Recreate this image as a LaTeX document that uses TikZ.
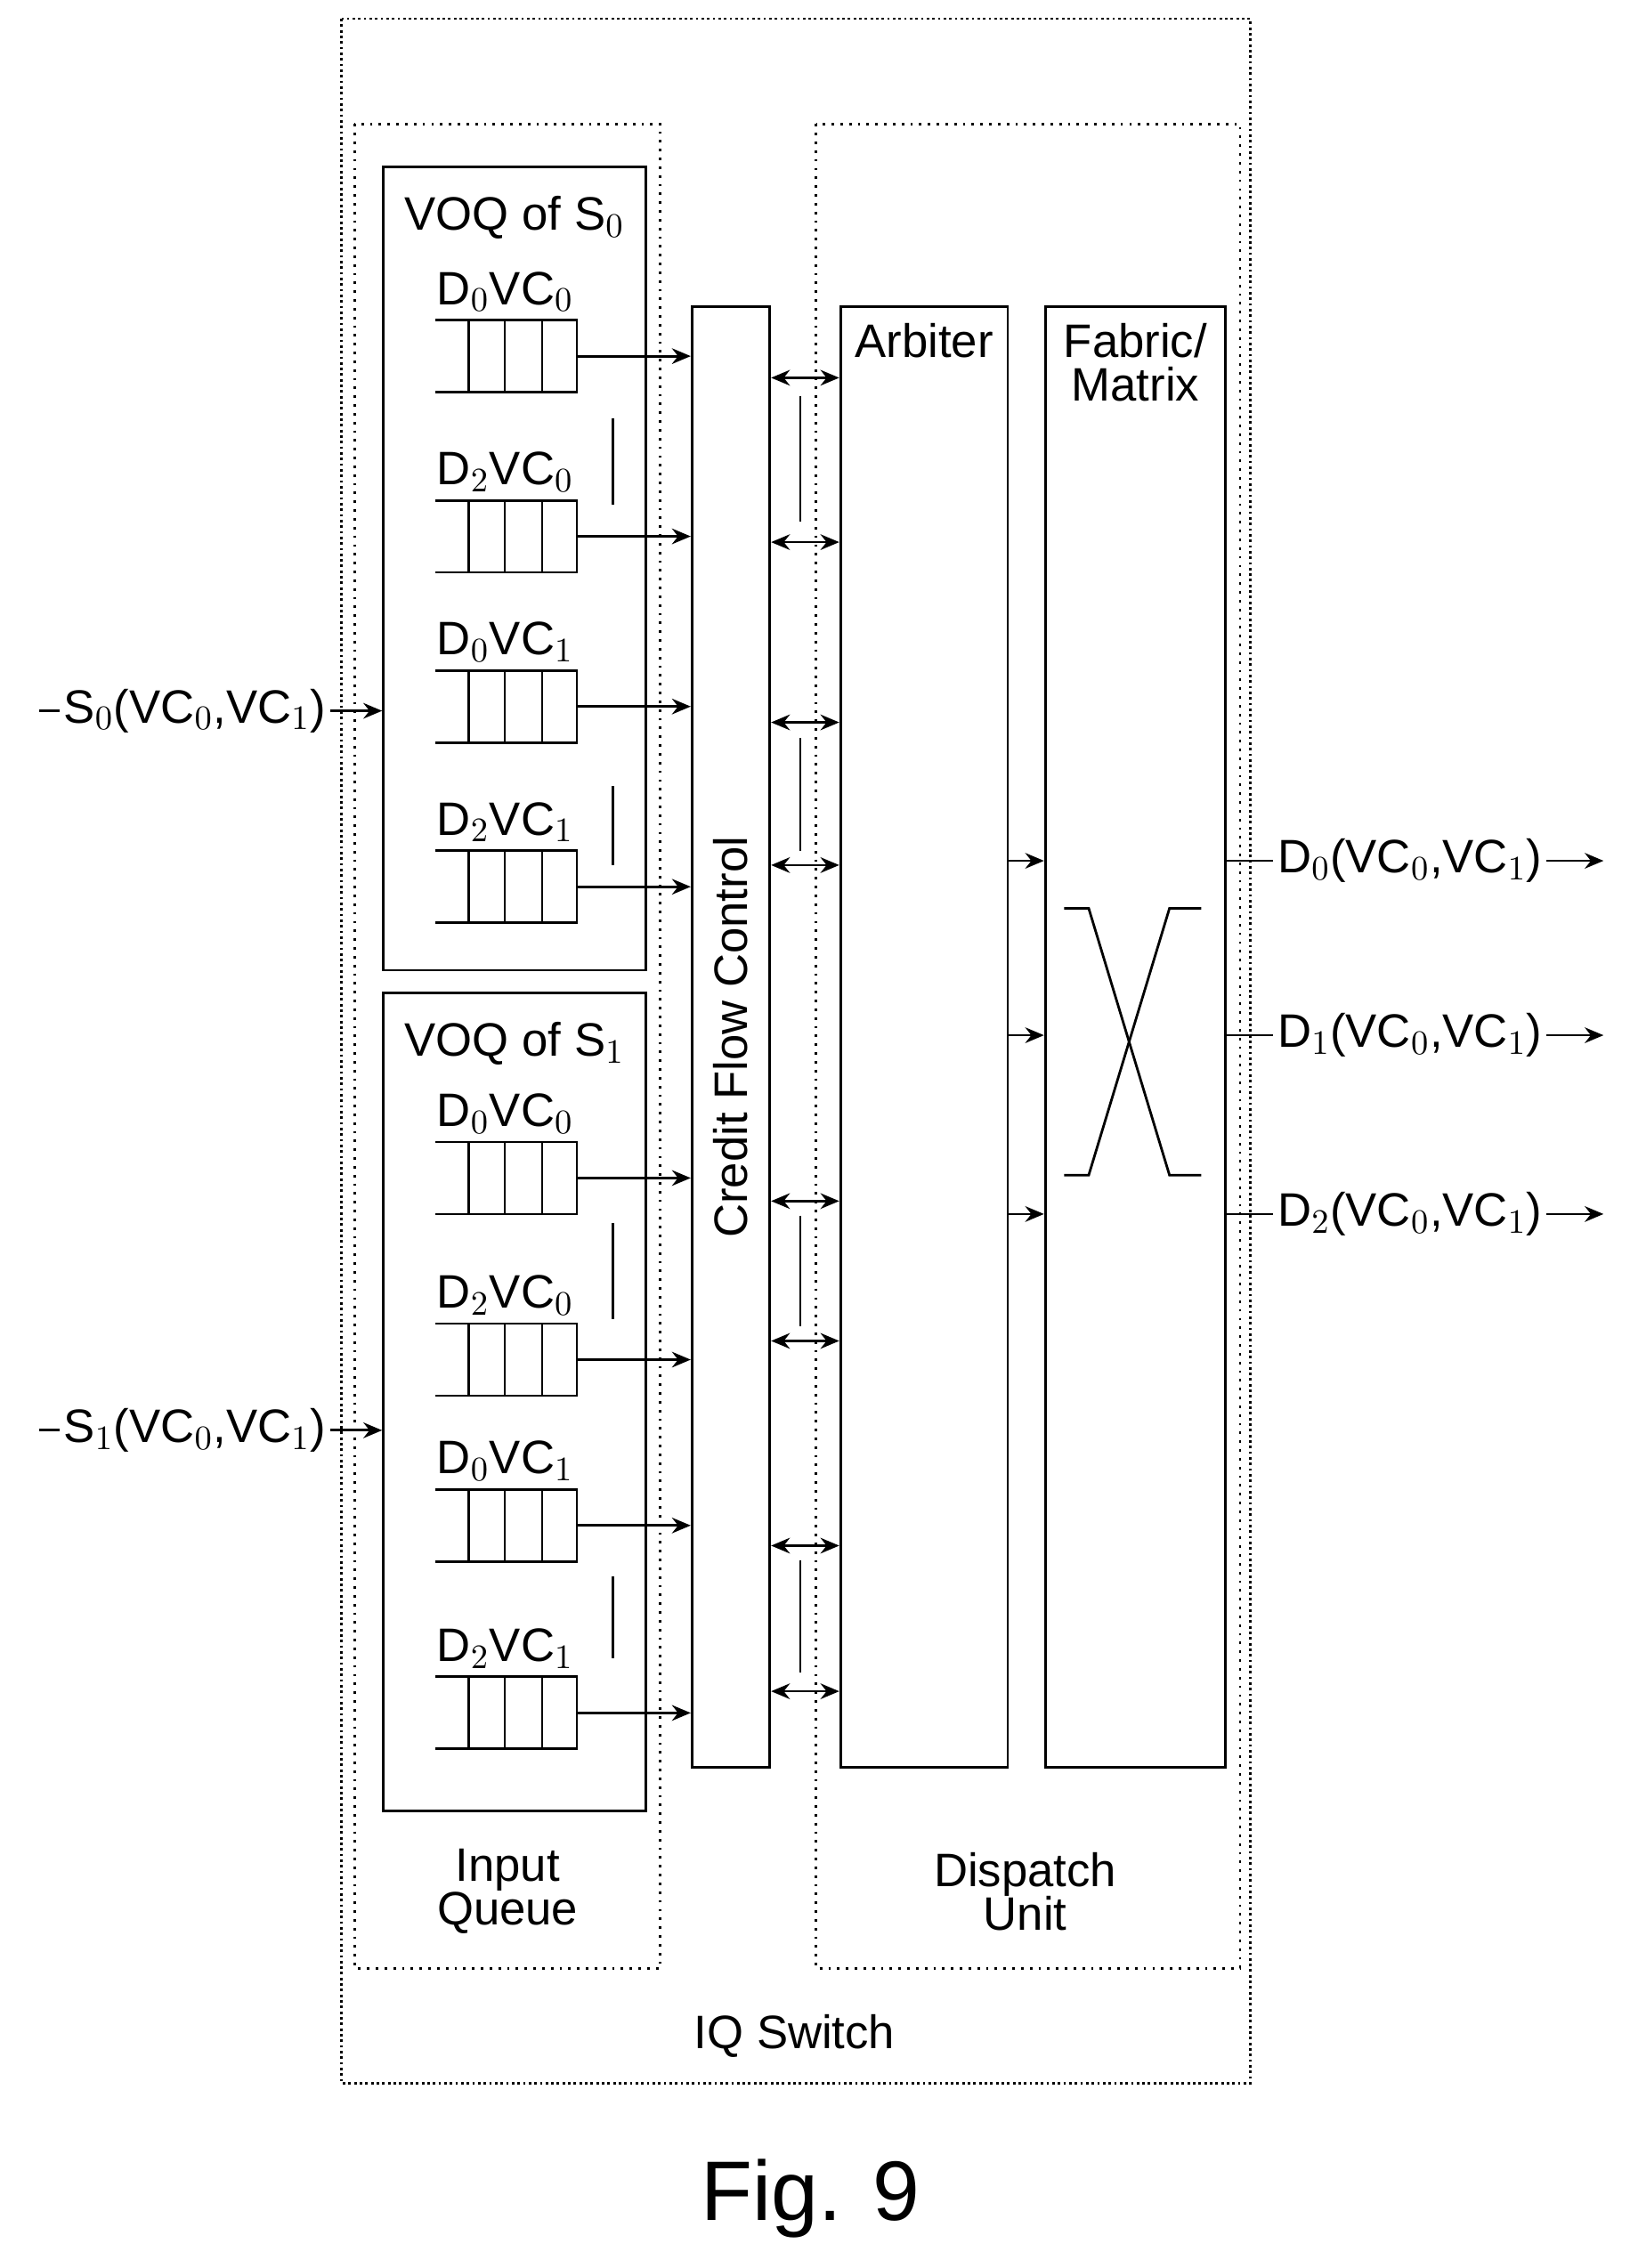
\documentclass[tikz,border=0pt]{standalone}
\usepackage{fontspec}
\setmainfont{Liberation Sans}
\usetikzlibrary{positioning,arrows.meta}

\begin{document}
\begin{tikzpicture}[x=0.0162cm,y=-0.0162cm,line width=0.8pt,
	box/.style={draw, anchor=north west, inner sep=0pt},
	lbl/.style={font=\fontsize{15}{17}\selectfont, align=center},
	sig/.style={-{Stealth[length=6pt,width=5pt]}},
	bsig/.style={{Stealth[length=6pt,width=5pt]}-{Stealth[length=6pt,width=5pt]}}]
	\useasboundingbox (0,0) rectangle (1130,1573);

	% frames
	\draw[densely dotted] (237,13) rectangle (867,1445);
	\draw[dotted] (246,86) rectangle (458,1365);
	\draw[dotted] (566,86) rectangle (860,1365);
	\node[lbl] (iq) at (551,1412) {IQ Switch};
	\node[lbl] (inq) at (352,1312) {Input\\[-3pt]Queue};
	\node[lbl] (disp) at (711,1312) {Dispatch\\[-3pt]Unit};

	% blocks
	\node[box, minimum width=54*0.0162cm, minimum height=1013*0.0162cm] (cfc) at (479,212) {};
	\node[lbl, rotate=90] at (cfc.center) {Credit Flow Control};
	\node[box, minimum width=116*0.0162cm, minimum height=1013*0.0162cm] (arb) at (582,212) {};
	\node[lbl, below=2pt of arb.north] {Arbiter};
	\node[box, minimum width=125*0.0162cm, minimum height=1013*0.0162cm] (fab) at (724,212) {};
	\node[lbl, below=2pt of fab.north] {Fabric/\\[-3pt]Matrix};

	% VOQ boxes
	\node[box, minimum width=182*0.0162cm, minimum height=557*0.0162cm] (voq0) at (265,115) {};
	\node[lbl, below=6pt of voq0.north] {VOQ of S$_0$};
	\node[box, minimum width=182*0.0162cm, minimum height=567*0.0162cm] (voq1) at (265,688) {};
	\node[lbl, below=6pt of voq1.north] {VOQ of S$_1$};

	% queues
	\foreach \n/\d/\v/\y in {a/0/0/222, b/2/0/347, c/0/1/465, d/2/1/590,
	                         e/0/0/792, f/2/0/918, g/0/1/1033, h/2/1/1163} {
		\draw (302,\y) -- (400,\y) -- (400,\y+50) -- (302,\y+50)
			(325,\y) -- (325,\y+50) (350,\y) -- (350,\y+50) (376,\y) -- (376,\y+50);
		\coordinate (q\n) at (400,\y+25);
		\node[lbl, anchor=south west, inner sep=1pt] at (300,\y-3) {D$_\d$VC$_\v$};
		\draw[sig] (q\n) -- (cfc.west |- q\n);
	}
	\foreach \a/\b in {290/350, 545/600, 848/915, 1093/1150}
		\draw (425,\a) -- (425,\b);

	% credit links
	\foreach \y in {262,376,501,600,833,930,1072,1173} {
		\coordinate (c\y) at (cfc.east |- 0,\y);
		\draw[bsig] (c\y) -- (arb.west |- c\y);
	}
	\foreach \a/\b in {275/362, 512/590, 843/920, 1082/1160}
		\draw (555,\a) -- (555,\b);

	% arbiter to fabric, outputs
	\foreach \i/\y in {0/597, 1/718, 2/842} {
		\coordinate (a\i) at (arb.east |- 0,\y);
		\draw[sig] (a\i) -- (fab.west |- a\i);
		\coordinate (o\i) at (fab.east |- 0,\y);
		\node[lbl, anchor=west, inner sep=1pt] (out\i) at (883,\y) {D$_\i$(VC$_0$,VC$_1$)};
		\draw (o\i) -- (out\i.west);
		\coordinate (e\i) at (1112,\y);
		\draw[sig] (out\i.east) -- (e\i);
	}

	% crossbar
	\draw (738,630) -- (755,630) -- (811,815) -- (833,815);
	\draw (738,815) -- (755,815) -- (811,630) -- (833,630);

	% inputs
	\foreach \i/\y in {0/493, 1/992} {
		\node[lbl, anchor=east, inner sep=1pt] (in\i) at (229,\y) {S$_\i$(VC$_0$,VC$_1$)};
		\coordinate (s\i) at (27,\y);
		\draw (s\i) -- (in\i.west);
		\draw[sig] (in\i.east) -- (voq0.west |- in\i.east);
	}

	\node[font=\fontsize{27}{30}\selectfont] (fig) at (562,1525) {Fig. 9};
\end{tikzpicture}
\end{document}
